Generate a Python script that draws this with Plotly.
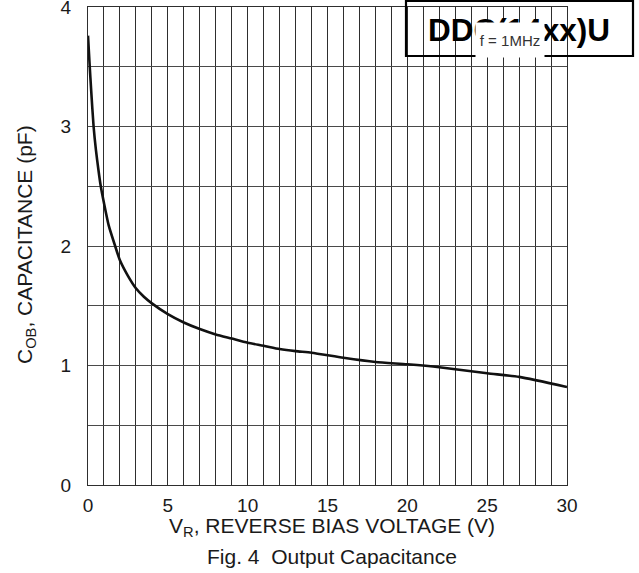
import plotly.graph_objects as go

# Data (V_R in volts, C_OB in pF)
vr = [0, 0.1, 0.2, 0.35, 0.5, 0.65, 0.8, 1.0, 1.3, 1.7, 2.0, 2.5, 3.0, 3.5, 4.0,
      5, 6, 7, 8, 9, 10, 11, 12, 13, 14, 16, 18, 20, 22, 25, 27, 30]
cob = [3.76, 3.52, 3.3, 3.0, 2.8, 2.64, 2.5, 2.36, 2.17, 2.0, 1.88, 1.75, 1.646, 1.575, 1.52,
       1.43, 1.36, 1.305, 1.26, 1.225, 1.19, 1.165, 1.138, 1.12, 1.107, 1.065, 1.03, 1.01, 0.985,
       0.935, 0.905, 0.82]

x_ticks = [0, 5, 10, 15, 20, 25, 30]
y_ticks = [0, 1, 2, 3, 4]

FONT = "Arial, Liberation Sans, sans-serif"

fig = go.Figure()
fig.add_trace(go.Scatter(x=vr, y=cob, mode="lines",
                         line=dict(color="#111111", width=2.6, shape="spline", smoothing=0.6),
                         showlegend=False, hoverinfo="skip"))

fig.update_layout(
    width=639, height=573,
    margin=dict(l=88, r=72, t=7, b=88, autoexpand=False),
    paper_bgcolor="white", plot_bgcolor="white",
    font=dict(family=FONT, color="#1a1a1a"),
    showlegend=False,
)

fig.update_xaxes(
    range=[0, 30], automargin=False,
    tickmode="array", tickvals=x_ticks, ticktext=[str(t) for t in x_ticks],
    showgrid=True, gridcolor="#2e2e2e", gridwidth=1.4,
    showline=True, linecolor="#2e2e2e", linewidth=1.4, mirror=True,
    zeroline=False, ticks="", ticklabelstandoff=3, ticklabeloverflow="allow",
    tickfont=dict(size=19, family=FONT, color="#1a1a1a"),
    minor=dict(dtick=1, tick0=0, showgrid=True, gridcolor="#2e2e2e", gridwidth=1.4),
)
fig.update_yaxes(
    range=[0, 4], automargin=False,
    tickmode="array", tickvals=y_ticks, ticktext=[str(t) for t in y_ticks],
    showgrid=True, gridcolor="#4a4a4a", gridwidth=1.4,
    showline=True, linecolor="#2e2e2e", linewidth=1.4, mirror=True,
    zeroline=False, ticks="", ticklabelstandoff=12, ticklabeloverflow="allow",
    tickfont=dict(size=19, family=FONT, color="#1a1a1a"),
    minor=dict(dtick=0.5, tick0=0, showgrid=True, gridcolor="#4a4a4a", gridwidth=1.4),
)

# Header box outline
fig.add_shape(type="rect", xref="paper", yref="paper",
              x0=(406 - 88) / 479, x1=(633 - 88) / 479,
              y0=(485 - 56) / 478, y1=(485 - 1) / 478,
              line=dict(color="#000000", width=2.2), fillcolor="rgba(0,0,0,0)", layer="above")

annotations = [
    dict(text="<b>DDC(14xx)U</b>", xref="paper", yref="paper",
         x=(426 - 88) / 479, y=(485 - 29.5) / 478, xanchor="left", yanchor="middle",
         showarrow=False, font=dict(size=31.5, family=FONT, color="#000000")),
    dict(text="f = 1MHz", xref="paper", yref="paper",
         x=(510 - 88) / 479, y=(485 - 40) / 478, xanchor="center", yanchor="middle",
         showarrow=False, bgcolor="white", width=66, height=32,
         font=dict(size=15, family=FONT, color="#333333")),
    dict(text="V<sub>R</sub>, REVERSE BIAS VOLTAGE (V)", xref="paper", yref="paper",
         x=(332 - 88) / 479, y=(485 - 527) / 478, xanchor="center", yanchor="middle",
         showarrow=False, font=dict(size=21, family=FONT, color="#1a1a1a")),
    dict(text="Fig. 4  Output Capacitance", xref="paper", yref="paper",
         x=(332 - 88) / 479, y=(485 - 556) / 478, xanchor="center", yanchor="middle",
         showarrow=False, font=dict(size=21, family=FONT, color="#1a1a1a")),
    dict(text="C<sub>OB</sub>, CAPACITANCE (pF)", xref="paper", yref="paper",
         x=(26 - 88) / 479, y=(485 - 245) / 478, xanchor="center", yanchor="middle",
         textangle=-90, showarrow=False, font=dict(size=21, family=FONT, color="#1a1a1a")),
]
fig.update_layout(annotations=annotations)

fig.write_html("out.html", config={"displayModeBar": False},
               post_script="document.body.style.margin='0';")
